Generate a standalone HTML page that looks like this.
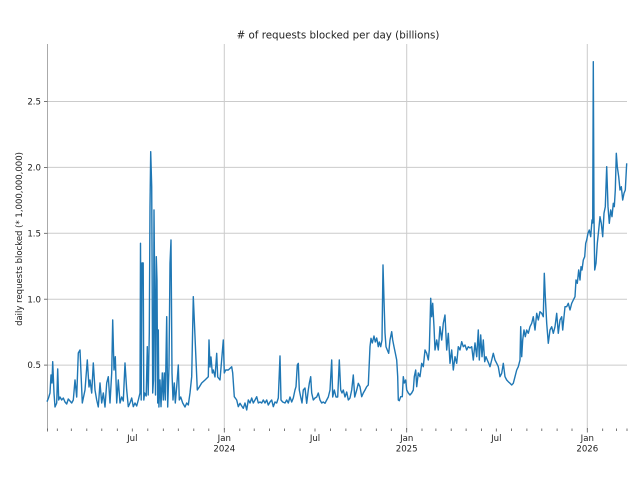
<!DOCTYPE html>
<html>
<head>
<meta charset="utf-8">
<style>
html,body{margin:0;padding:0;background:#fff;}
svg{display:block;}
text{font-family:"DejaVu Sans","Liberation Sans",sans-serif;fill:#222;}
</style>
</head>
<body>
<svg width="640" height="480" viewBox="0 0 640 480" xmlns="http://www.w3.org/2000/svg">
<rect x="0" y="0" width="640" height="480" fill="#fff"/>
<g stroke="#cbcbcb" stroke-width="1">
<line x1="47.5" y1="365.1" x2="627" y2="365.1"/>
<line x1="47.5" y1="299.2" x2="627" y2="299.2"/>
<line x1="47.5" y1="233.3" x2="627" y2="233.3"/>
<line x1="47.5" y1="167.4" x2="627" y2="167.4"/>
<line x1="47.5" y1="101.5" x2="627" y2="101.5"/>
<line x1="224.3" y1="44" x2="224.3" y2="430"/>
<line x1="406.7" y1="44" x2="406.7" y2="430"/>
<line x1="587.3" y1="44" x2="587.3" y2="430"/>
</g>
<line x1="47.5" y1="44" x2="47.5" y2="430" stroke="#aaa" stroke-width="1"/>
<g stroke="#555" stroke-width="0.8">
<line x1="44" y1="365.1" x2="47.5" y2="365.1"/>
<line x1="44" y1="299.2" x2="47.5" y2="299.2"/>
<line x1="44" y1="233.3" x2="47.5" y2="233.3"/>
<line x1="44" y1="167.4" x2="47.5" y2="167.4"/>
<line x1="44" y1="101.5" x2="47.5" y2="101.5"/>
<line x1="47.5" y1="428.5" x2="47.5" y2="431.5"/>
<line x1="57.3" y1="428.5" x2="57.3" y2="431"/>
<line x1="71.3" y1="428.5" x2="71.3" y2="431"/>
<line x1="86.8" y1="428.5" x2="86.8" y2="431"/>
<line x1="101.8" y1="428.5" x2="101.8" y2="431"/>
<line x1="117.3" y1="428.5" x2="117.3" y2="431"/>
<line x1="132.3" y1="428.5" x2="132.3" y2="431.5"/>
<line x1="147.8" y1="428.5" x2="147.8" y2="431"/>
<line x1="163.3" y1="428.5" x2="163.3" y2="431"/>
<line x1="178.3" y1="428.5" x2="178.3" y2="431"/>
<line x1="193.8" y1="428.5" x2="193.8" y2="431"/>
<line x1="208.8" y1="428.5" x2="208.8" y2="431"/>
<line x1="224.3" y1="428" x2="224.3" y2="432.5"/>
<line x1="239.8" y1="428.5" x2="239.8" y2="431"/>
<line x1="254.2" y1="428.5" x2="254.2" y2="431"/>
<line x1="269.6" y1="428.5" x2="269.6" y2="431"/>
<line x1="284.6" y1="428.5" x2="284.6" y2="431"/>
<line x1="300.1" y1="428.5" x2="300.1" y2="431"/>
<line x1="315.0" y1="428.5" x2="315.0" y2="431.5"/>
<line x1="330.5" y1="428.5" x2="330.5" y2="431"/>
<line x1="345.9" y1="428.5" x2="345.9" y2="431"/>
<line x1="360.9" y1="428.5" x2="360.9" y2="431"/>
<line x1="376.3" y1="428.5" x2="376.3" y2="431"/>
<line x1="391.3" y1="428.5" x2="391.3" y2="431"/>
<line x1="406.7" y1="428" x2="406.7" y2="432.5"/>
<line x1="422.0" y1="428.5" x2="422.0" y2="431"/>
<line x1="435.9" y1="428.5" x2="435.9" y2="431"/>
<line x1="451.2" y1="428.5" x2="451.2" y2="431"/>
<line x1="466.1" y1="428.5" x2="466.1" y2="431"/>
<line x1="481.4" y1="428.5" x2="481.4" y2="431"/>
<line x1="496.3" y1="428.5" x2="496.3" y2="431.5"/>
<line x1="511.6" y1="428.5" x2="511.6" y2="431"/>
<line x1="526.9" y1="428.5" x2="526.9" y2="431"/>
<line x1="541.8" y1="428.5" x2="541.8" y2="431"/>
<line x1="557.1" y1="428.5" x2="557.1" y2="431"/>
<line x1="572.0" y1="428.5" x2="572.0" y2="431"/>
<line x1="587.3" y1="428" x2="587.3" y2="432.5"/>
<line x1="602.7" y1="428.5" x2="602.7" y2="431"/>
<line x1="616.6" y1="428.5" x2="616.6" y2="431"/>
<line x1="627" y1="428.5" x2="627" y2="431"/>
</g>
<polyline fill="none" stroke="#1f77b4" stroke-width="1.4" stroke-linejoin="round" points="47,401.7 48.5,398 50,393 51,375 52,383 52.7,361.7 54,393 55,407 56.7,403 57.7,369 58.7,400 60,397 61.7,400 63.3,398 65,402 66.7,404 68.3,399 70,401 71.7,403 73.3,400 75,380 76.7,397 78.3,353 80,350 81,373 82.3,403 85,390 87.3,360 89,387 90,380 91.7,393 93.3,363 95,390 96.7,400 98.3,407 100,383 101.7,403 103.3,393 105,407 106.7,383 108.3,376.7 110,403 111.7,373 112.7,320 114,370 115.3,356.7 116.7,403 118.3,380 120,403 121.7,397 123.3,401 125,363 126.7,390 128.3,406.7 130,403 131.7,398 133.3,406.7 135,403 136.7,406 138.3,400 140,393 140.5,243.3 141.2,400 142,263 143.2,263 143.8,400 144.6,393 146.2,396 147.3,346.7 148.2,395 149.3,333 150,206.7 150.7,151.7 151.7,186.7 152.7,393 153.5,380 154,210 154.8,300 155.5,395 156.3,256.7 157,280 157.7,403 158.3,330 158.9,407 160,380 161,406.7 162.3,373 163.3,400 164.3,373 165.3,400 166.7,316.7 167.7,407 169,367 170,263.3 171,240 172,373 173,400 174.3,383 175.3,403 176.7,386.7 178.3,365 179.3,400 180.7,397 182.7,403 185,407 186.7,403 188.3,405 190,393 191.7,376.7 193.3,296.7 194.3,320 196,360 197.3,390 199.3,387 201.7,383 205,380 208.3,376.7 209,340 210,367 211,357 212.3,373 213.3,370 215,377 216.7,353.3 217.7,377 220,380 223.3,340 224.3,373 225.7,370 228.3,370 231.7,366.7 232.7,373 234.3,396.7 236.7,400 238.3,406.7 240,403.3 241.7,406 243.3,408.3 245,403 246.7,410 248.3,400 250,403 251.7,398 253.3,403 255,400 256.7,396.7 258.3,403 260,402 261.7,403 263.3,400 265,403 266.7,400 268.3,405 270,402 271.7,400 273.3,406.7 275,402 276.7,403 278.3,398 280,356 281,400 282.7,402 285,403 286.7,400 288.3,403 290,397 291.7,402 293.3,398 295,390 296,386.7 297.3,365 298.3,363.3 299.3,390 300.7,397 302,403 303.3,390 305,388 306.7,403.3 308.3,390 309.3,383.3 310.7,376.7 311.7,393 313.3,400 315,398 316.7,397 318.3,393 320,400 321.7,403 323.3,402 325,403.3 326.7,400 328.3,397 330,390 331.7,360 332.7,397 334.3,390 336,397 337.7,397 339.3,360 340.7,390 342,393 343.3,390 345,397 346.7,392 348.3,400 350,398 351.7,390 353.3,375 354.7,397 356.7,390 358.3,383.3 360,386.7 361.7,396.7 363.3,393 365,390 366.7,386.7 368.3,385 370,346.7 371,338.3 372.3,343 374,336 375.3,342 376.7,338 378.3,346.7 379.3,342 380.7,346.7 382,340 383,265 384,300 385,333 386,346.7 387.3,350 388.7,353.3 390,340 391.7,331.7 392.7,340 394,346.7 395.3,353 396.7,360 397.7,376.7 398.3,400 399.3,400.7 400.7,396.7 402.3,396.7 403.3,376.7 404.3,383 405.7,380 406.7,390 408.3,393 410,395 411.7,393 413.3,390 414.3,376.7 415.7,370 416.7,386.7 418.3,373 420,376.7 421.7,363.3 423.3,366.7 425,350 426.7,353.3 428.3,360 429.3,350 430.7,298.3 431.7,316.7 432.7,303.3 434,326.7 435,350 436.7,340 438.3,350 440,326.7 441.7,340 443.3,323.3 445,315 446.7,350 448.3,333.3 450,363.3 451.7,350 453.3,370 455,356.7 456.7,363.3 458.3,346.7 460,350 461.7,341.7 463.3,346.7 465,345 466.7,350 468.3,346.7 470,348 471.7,346.7 473.3,360 475,343 476.7,356.7 478.3,330 479.3,360 480.7,335 482,356.7 483.3,340 484.7,361.7 486,356.7 487.3,360 488.7,363.3 490,366.7 491.7,360 493.3,353.3 495,360 496.7,363.3 498.3,366.7 500,376.7 501.7,373.3 503.3,363.3 505,376.7 506.7,380 508.3,381.7 510,383.3 511.7,385 513.3,383.3 515,376.7 516.7,370 518.3,366.7 520,360 520.7,326.7 521.7,356.7 522.7,340 524,330 525.3,336.7 526.7,330 528.3,333.3 530,326.7 531.7,323.3 533.3,316.7 535,330 536.7,313.3 538.3,320 540,311.7 541.7,313.3 543.3,316.7 544.3,273.3 545.3,296.7 546.7,323.3 548.3,343.3 550,330 551.7,326.7 553.3,333.3 555,326.7 556.7,313.3 558.3,333.3 560,320 561.7,316.7 562.7,330 564,316.7 565,306.7 566.7,306.7 568.3,303.3 570,310 571.7,303.3 573.3,300 575,296.7 576,280 577.3,283.3 578.7,270 580,280 581,266.7 582,270 583.3,260 584.7,256.7 585.7,243.3 586.7,240 588,233.3 589.3,230 590.7,236.7 592,220 592.7,223 593.3,61.7 594,216.7 594.7,270 596,263.3 597.3,243.3 598.7,230 600,216.7 601.3,223.3 602.7,236.7 604,213.3 605.3,206.7 606.7,166.7 608,206.7 609.3,223.3 610.7,210 612,216.7 613.3,203.3 614.3,206.7 615.3,190 616.3,153.3 617.3,166.7 618.7,176.7 620,190 621.3,186.7 622.7,200 624,193.3 625.3,190 626.7,163.3"/>
<text x="338" y="38.5" font-size="10.3" text-anchor="middle"># of requests blocked per day (billions)</text>
<text transform="translate(22,239) rotate(-90)" font-size="8.5" text-anchor="middle">daily requests blocked (* 1,000,000,000)</text>
<g font-size="8.6" text-anchor="end">
<text x="41" y="368.2">0.5</text>
<text x="41" y="302.3">1.0</text>
<text x="41" y="236.4">1.5</text>
<text x="41" y="170.5">2.0</text>
<text x="41" y="104.6">2.5</text>
</g>
<g font-size="8.6" text-anchor="middle">
<text x="132.3" y="441">Jul</text>
<text x="224.3" y="441">Jan</text>
<text x="224.3" y="451.5">2024</text>
<text x="315.0" y="441">Jul</text>
<text x="406.7" y="441">Jan</text>
<text x="406.7" y="451.5">2025</text>
<text x="496.3" y="441">Jul</text>
<text x="587.3" y="441">Jan</text>
<text x="587.3" y="451.5">2026</text>
</g>
</svg>
</body>
</html>
